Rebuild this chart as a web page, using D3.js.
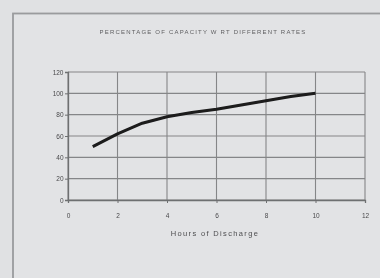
<!DOCTYPE html>
<html>
<head>
<meta charset="utf-8">
<script src="https://cdn.jsdelivr.net/npm/d3@7"></script>
<style>
body { margin: 0; background: #e0e1e3; }
svg { display: block; }
</style>
</head>
<body>
<svg></svg>
<script>
var width = 380, height = 278;

var hours = [1, 2, 3, 4, 5, 6, 7, 8, 9, 10];
var capacity = [50, 62, 72, 78, 82, 85, 89, 93, 97, 100];
var xTicks = [0, 2, 4, 6, 8, 10, 12];
var yTicks = [0, 20, 40, 60, 80, 100, 120];
var titleText = "PERCENTAGE OF CAPACITY W RT DIFFERENT RATES";
var xTitle = "Hours of Discharge";

var svg = d3.select("svg")
    .attr("width", width)
    .attr("height", height);

var defs = svg.append("defs");
defs.append("filter")
    .attr("id", "soft")
    .append("feGaussianBlur")
    .attr("stdDeviation", 0.6);

var root = svg.append("g").attr("filter", "url(#soft)");

// outer frame
root.append("rect")
    .attr("x", 13)
    .attr("y", 13.5)
    .attr("width", 400)
    .attr("height", 300)
    .attr("fill", "#e2e3e5")
    .attr("stroke", "#9a9b9d")
    .attr("stroke-width", 1.8);

var plot = {left: 68, right: 365, top: 72, bottom: 200};

var x = d3.scaleLinear().domain([0, 12]).range([plot.left, plot.right]);
var y = d3.scaleLinear().domain([0, 120]).range([plot.bottom, plot.top]);

// grid
root.append("g")
    .selectAll("line")
    .data(yTicks)
    .enter()
    .append("line")
    .attr("x1", plot.left)
    .attr("x2", plot.right)
    .attr("y1", function (d) { return y(d); })
    .attr("y2", function (d) { return y(d); })
    .attr("stroke", "#858688")
    .attr("stroke-width", 1.1);

root.append("g")
    .selectAll("line")
    .data(xTicks)
    .enter()
    .append("line")
    .attr("x1", function (d) { return x(d); })
    .attr("x2", function (d) { return x(d); })
    .attr("y1", plot.top)
    .attr("y2", plot.bottom)
    .attr("stroke", "#858688")
    .attr("stroke-width", 1.1);

// axes
var xAxis = d3.axisBottom(x).tickValues(xTicks).tickSize(3).tickPadding(10);
var yAxis = d3.axisLeft(y).tickValues(yTicks).tickSize(3).tickPadding(1.5);

var gx = root.append("g")
    .attr("transform", "translate(0," + plot.bottom + ")")
    .call(xAxis);
var gy = root.append("g")
    .attr("transform", "translate(" + plot.left + ",0)")
    .call(yAxis);

[gx, gy].forEach(function (g) {
    g.select(".domain").attr("stroke", "#6e6f71").attr("stroke-width", 1.3);
    g.selectAll(".tick line").attr("stroke", "#6e6f71");
    g.selectAll("text")
        .attr("fill", "#4a4a4c")
        .style("font-family", "'Liberation Sans', Arial, sans-serif")
        .style("font-size", "6.5px");
});

// data line
var line = d3.line()
    .x(function (d, i) { return x(hours[i]); })
    .y(function (d) { return y(d); });

root.append("path")
    .datum(capacity)
    .attr("d", line)
    .attr("fill", "none")
    .attr("stroke", "#1a1a1b")
    .attr("stroke-width", 3)
    .attr("stroke-linejoin", "round");

// titles
root.append("text")
    .attr("x", 203)
    .attr("y", 34)
    .attr("text-anchor", "middle")
    .attr("fill", "#5e5e60")
    .style("font-family", "'Liberation Sans', Arial, sans-serif")
    .style("font-size", "6px")
    .style("letter-spacing", "1.2px")
    .text(titleText);

root.append("text")
    .attr("x", 215)
    .attr("y", 236)
    .attr("text-anchor", "middle")
    .attr("fill", "#4e4e50")
    .style("font-family", "'Liberation Sans', Arial, sans-serif")
    .style("font-size", "7.5px")
    .style("letter-spacing", "1.35px")
    .text(xTitle);
</script>
</body>
</html>
